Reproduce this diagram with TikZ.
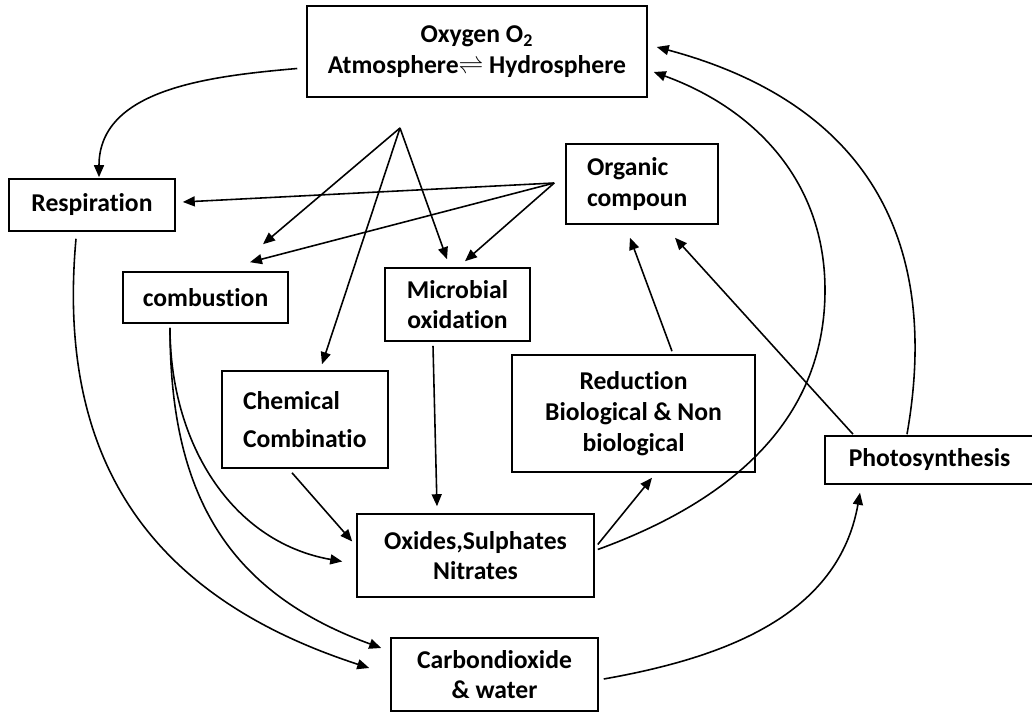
\documentclass[tikz,border=0pt]{standalone}
\usepackage{fontspec}
\setmainfont{Carlito}[Ligatures=NoCommon]
\usetikzlibrary{arrows.meta,calc}

\begin{document}
\begin{tikzpicture}[x=.02cm,y=-.02cm,line width=.9pt,font=\bfseries\fontsize{14.6}{17.5}\selectfont,
  box/.style={draw,inner sep=0pt,align=center},
  lbox/.style={draw,inner ysep=0pt,inner xsep=.42cm,align=left},
  arr/.style={-{Triangle[length=2.4mm,width=2mm]}}]
\useasboundingbox(0,0)rectangle(1032,715);
% boxes
\node[box,minimum width=6.8cm,minimum height=1.82cm](oxy)at(477,51.5){Oxygen O\textsubscript{2}\\Atmosphere$\rightleftharpoons$ Hydrosphere};
\node[box,minimum width=3.32cm,minimum height=1.04cm](resp)at(92,205){Respiration};
\node[box,minimum width=3.3cm,minimum height=1.02cm](comb)at(205.5,297.5){combustion};
\node[box,minimum width=2.9cm,minimum height=1.46cm](micro)at(457.5,304.5){Microbial\\oxidation};
\node[lbox,text width=2.2cm,minimum height=1.6cm](org)at(642,184){Organic\\compoun};
\node[lbox,text width=2.48cm,minimum height=1.94cm,font=\bfseries\fontsize{14.6}{21.5}\selectfont](chem)at(305,419.5){Chemical\\Combinatio\\[4pt]};
\node[box,minimum width=4.86cm,minimum height=2.34cm](red)at(633.5,413.5){Reduction\\Biological \& Non\\biological};
\node[box,minimum width=4.18cm,minimum height=.96cm](photo)at(929.5,460){Photosynthesis};
\node[box,minimum width=4.74cm,minimum height=1.66cm](oxd)at(475.5,555.5){Oxides,Sulphates\\Nitrates};
\node[box,minimum width=4.14cm,minimum height=1.46cm](co2)at(494.5,674.5){Carbondioxide\\\& water};
% straight arrows
\coordinate(hub)at(400,128);
\foreach\t/\dx/\dy in{comb/57.5/-27,chem/17/-6,micro/-10.5/-8}\draw[arr](hub)--($(\t.north)+(\dx,\dy)$);
\foreach\t/\a/\dx/\dy in{resp/east/7/-3,comb/north/44.5/-9,micro/north/7.5/-6}\draw[arr]($(org.west)+(-11,-1)$)--($(\t.\a)+(\dx,\dy)$);
\draw[arr]($(micro.south)+(-24.5,4)$)--($(oxd.north)+(-38.5,-7)$);
\draw[arr]($(chem.south)+(-13,4)$)--($(oxd.west)+(-4,-14)$);
\draw[arr]($(oxd.east)+(3,-11)$)--($(red.south)+(18.5,5)$);
\draw[arr]($(red.north)+(38.5,-3)$)--($(org.south)+(-12,13)$);
\draw[arr]($(photo.north)+(-76.5,-1)$)--($(org.south)+(33,13)$);
% curved arrows
\draw[arr]($(oxy.west)+(-9,17)$)to[out=185,in=90]($(resp.north)+(7,-1)$);
\draw[arr]($(comb.south)+(-35.5,4)$)to[out=-90,in=170]($(oxd.west)+(-14,6)$);
\draw[arr]($(comb.south)+(-35.5,4)$)to[out=-90,in=160,looseness=1.1]($(co2.west)+(-9,-26.5)$);
\draw[arr]($(resp.south)+(-16,7)$).. controls(55,470)and(160,600)..($(co2.west)+(-21,-6.5)$);
\draw[arr]($(oxd.east)+(3,-6)$)to[out=20,in=-90](825,290)to[out=90,in=-20]($(oxy.east)+(6,20.5)$);
\draw[arr]($(photo.north)+(-22.5,-1)$)to[out=80,in=-15,looseness=1.15]($(oxy.east)+(9,-4.5)$);
\draw[arr]($(co2.east)+(5,4.5)$)to[out=10,in=-100]($(photo.south)+(-69.5,8)$);
\end{tikzpicture}
\end{document}
